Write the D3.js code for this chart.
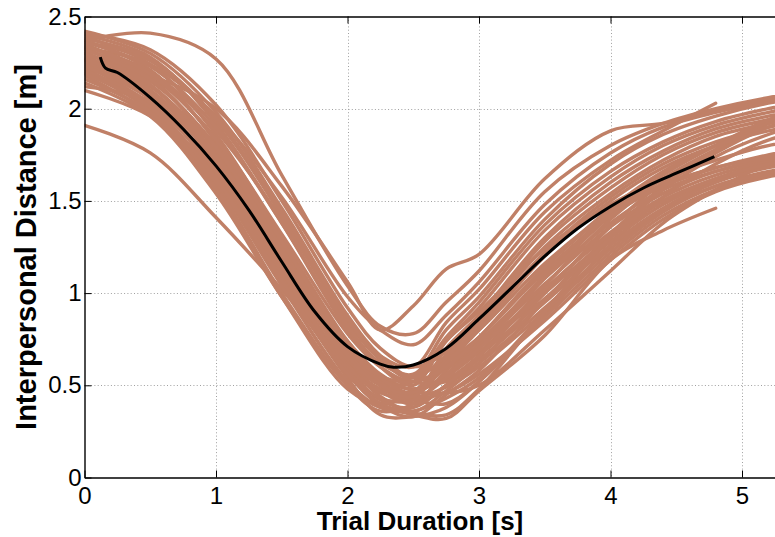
<!DOCTYPE html>
<html>
<head>
<meta charset="utf-8">
<script src="https://cdn.jsdelivr.net/npm/d3@7"></script>
<style>
  body { margin: 0; background: #fff; }
  svg { display: block; font-family: 'Liberation Sans', Arial, Helvetica, sans-serif; }
</style>
</head>
<body>
<svg></svg>
<script>
// sample times shared by every trial (s)
let sampleTimes = [0, 0.5, 1, 1.5, 2, 2.25, 2.5, 2.75, 3, 3.5, 4, 4.4, 4.8, 5.2, 5.6]

// interpersonal distance per trial (m), null = trial already ended
let trials = [
  [2.37, 2.41, 2.27, 1.64, 1.04, 0.82, 0.78, 0.95, 1.12, 1.55, 1.80, 1.92, 2.00, 2.06, 2.10],
  [2.26, 2.18, 2.00, 1.58, 1.06, 0.80, 0.93, 1.13, 1.21, 1.62, 1.88, 1.92, 1.99, 2.05, 2.10],
  [2.33, 2.24, 1.96, 1.52, 0.98, 0.80, 0.72, 0.88, 1.06, 1.48, 1.76, 1.90, 1.98, 2.04, 2.08],
  [1.91, 1.76, 1.41, 1.02, 0.60, 0.48, 0.43, 0.46, 0.56, 0.85, 1.18, 1.40, 1.55, 1.63, 1.67],
  [2.12, 2.04, 1.74, 1.24, 0.74, 0.56, 0.47, 0.46, 0.50, 0.80, 1.12, 1.38, 1.56, 1.70, 1.78],
  [2.42, 2.30, 1.98, 1.46, 0.88, 0.66, 0.55, 0.76, 0.95, 1.37, 1.66, 1.82, 1.93, 2.00, 2.05],
  [2.40, 2.28, 1.92, 1.38, 0.80, 0.60, 0.50, 0.74, 0.90, 1.24, 1.48, 1.62, 1.72, 1.80, 1.84],
  [2.39, 2.24, 1.86, 1.30, 0.74, 0.55, 0.45, 0.70, 0.88, 1.30, 1.60, 1.77, 1.89, 1.96, 2.01],
  [2.37, 2.21, 1.82, 1.26, 0.68, 0.50, 0.40, 0.58, 0.72, 1.05, 1.36, 1.54, 1.66, 1.72, 1.76],
  [2.35, 2.17, 1.77, 1.20, 0.62, 0.44, 0.36, 0.47, 0.62, 1.00, 1.36, 1.60, 1.77, 1.92, 2.00],
  [2.33, 2.13, 1.73, 1.15, 0.57, 0.39, 0.33, 0.45, 0.58, 0.96, 1.32, 1.58, 1.76, 1.90, 1.98],
  [2.31, 2.10, 1.70, 1.12, 0.60, 0.42, 0.38, 0.50, 0.62, 0.92, 1.24, 1.45, 1.58, 1.66, 1.70],
  [2.29, 2.08, 1.66, 1.08, 0.54, 0.34, 0.33, 0.38, 0.52, 0.90, 1.30, 1.56, 1.74, 1.86, 1.94],
  [2.27, 2.06, 1.64, 1.10, 0.62, 0.48, 0.47, 0.66, 0.84, 1.25, 1.54, 1.72, 1.85, 1.92, 1.97],
  [2.25, 2.06, 1.68, 1.16, 0.66, 0.52, 0.52, 0.74, 0.92, 1.34, 1.63, 1.80, 1.91, 1.98, 2.03],
  [2.24, 2.02, 1.62, 1.06, 0.56, 0.40, 0.34, 0.32, 0.47, 0.77, 1.18, 1.34, 1.46, null, null],
  [2.34, 2.20, 1.88, 1.40, 0.86, 0.66, 0.60, 0.84, 1.02, 1.44, 1.72, 1.88, 2.03, null, null],
  [2.22, 2.00, 1.60, 1.04, 0.52, 0.38, 0.36, 0.43, 0.54, 0.88, 1.26, 1.52, 1.70, 1.83, 1.90],
  [2.20, 1.99, 1.58, 1.00, 0.50, 0.36, 0.40, 0.56, 0.72, 1.10, 1.44, 1.65, 1.80, 1.92, 1.99],
  [2.18, 1.97, 1.56, 0.98, 0.48, 0.40, 0.46, 0.64, 0.82, 1.22, 1.52, 1.70, 1.82, 1.90, 1.95],
  [2.16, 1.98, 1.60, 1.08, 0.60, 0.46, 0.42, 0.40, 0.52, 0.87, 1.20, 1.42, 1.56, 1.64, 1.68],
  [2.10, 1.96, 1.66, 1.18, 0.70, 0.54, 0.48, 0.53, 0.66, 0.97, 1.28, 1.48, 1.61, 1.69, 1.74],
  [2.36, 2.26, 1.94, 1.42, 0.84, 0.64, 0.54, 0.66, 0.80, 1.16, 1.44, 1.59, 1.68, 1.75, 1.80],
  [2.32, 2.18, 1.84, 1.32, 0.78, 0.60, 0.52, 0.60, 0.74, 1.08, 1.38, 1.56, 1.66, 1.73, 1.77],
  [2.30, 2.15, 1.80, 1.28, 0.72, 0.54, 0.48, 0.55, 0.68, 1.00, 1.30, 1.50, 1.62, 1.70, 1.74],
  [2.28, 2.12, 1.78, 1.24, 0.70, 0.52, 0.44, 0.49, 0.60, 0.90, 1.22, 1.44, 1.58, 1.65, 1.70],
  [2.41, 2.32, 2.02, 1.50, 0.92, 0.70, 0.60, 0.68, 0.86, 1.28, 1.57, 1.75, 1.87, 1.94, 1.99],
  [2.38, 2.27, 1.95, 1.44, 0.86, 0.64, 0.52, 0.52, 0.64, 0.95, 1.26, 1.46, 1.60, 1.68, 1.72],
  [2.26, 2.09, 1.72, 1.18, 0.64, 0.47, 0.40, 0.50, 0.66, 1.04, 1.40, 1.62, 1.78, 1.93, 2.03],
  [2.23, 2.05, 1.66, 1.12, 0.58, 0.43, 0.42, 0.54, 0.70, 1.08, 1.42, 1.64, 1.80, 1.94, 2.02],
  [2.21, 2.03, 1.66, 1.14, 0.64, 0.50, 0.46, 0.56, 0.70, 1.02, 1.33, 1.52, 1.64, 1.71, 1.75],
  [2.34, 2.19, 1.83, 1.28, 0.72, 0.54, 0.46, 0.60, 0.76, 1.14, 1.46, 1.66, 1.80, 1.90, 1.96],
  [2.32, 2.16, 1.79, 1.24, 0.68, 0.50, 0.44, 0.62, 0.76, 1.12, 1.42, 1.58, 1.68, 1.74, 1.78],
  [2.19, 2.01, 1.62, 1.07, 0.56, 0.40, 0.35, 0.34, 0.48, 0.90, 1.30, 1.50, 1.62, 1.70, 1.74],
  [2.30, 2.13, 1.75, 1.20, 0.66, 0.50, 0.46, 0.62, 0.80, 1.20, 1.50, 1.68, 1.80, 1.88, 1.93],
  [2.27, 2.10, 1.74, 1.22, 0.70, 0.55, 0.52, 0.60, 0.76, 1.14, 1.44, 1.58, 1.68, null, null],
  [2.36, 2.23, 1.90, 1.38, 0.82, 0.62, 0.56, 0.80, 0.98, 1.40, 1.70, 1.86, 1.96, 2.03, 2.07],
  [2.14, 1.96, 1.54, 0.98, 0.50, 0.38, 0.38, 0.50, 0.66, 1.02, 1.32, 1.50, 1.62, 1.70, 1.76]
]

// mean curve
let meanTimes = [0.12, 0.16, 0.25, 0.5, 0.75, 1, 1.25, 1.5, 1.75, 2, 2.25, 2.35, 2.5, 2.75, 3, 3.25, 3.5, 3.75, 4, 4.25, 4.5, 4.79]
let meanDistance = [2.28, 2.22, 2.196, 2.06, 1.89, 1.69, 1.45, 1.17, 0.90, 0.71, 0.615, 0.598, 0.61, 0.70, 0.86, 1.03, 1.20, 1.35, 1.47, 1.57, 1.65, 1.74]

let xTicks = [0, 1, 2, 3, 4, 5]
let yTicks = [0, 0.5, 1, 1.5, 2, 2.5]
let yTickLabels = ['0', '0.5', '1', '1.5', '2', '2.5']

let width = 775
let height = 537
let plotLeft = 84.5
let plotTop = 16.5
let plotBottom = 477.5
let unitX = 131.5

let trialColor = 'rgb(192,128,103)'

let svg = d3.select('svg')
let xScale
let yScale

let drawCanvas = () => {
    svg.attr('width', width)
    svg.attr('height', height)
}

let generateScales = () => {
    xScale = d3.scaleLinear()
                .domain([0, 5.5])
                .range([plotLeft, plotLeft + 5.5 * unitX])
    yScale = d3.scaleLinear()
                .domain([0, 2.5])
                .range([plotBottom, plotTop])
}

// dotted grid under the data
let drawGrid = () => {
    let grid = svg.append('g')
                  .attr('stroke', '#a0a0a0')
                  .attr('stroke-width', 1)
                  .attr('stroke-dasharray', '1,2.3')
    grid.selectAll('.gx')
        .data(xTicks.slice(1))
        .enter()
        .append('line')
        .attr('x1', (d) => Math.round(xScale(d)) + 0.5)
        .attr('x2', (d) => Math.round(xScale(d)) + 0.5)
        .attr('y1', plotTop)
        .attr('y2', plotBottom)
    grid.selectAll('.gy')
        .data(yTicks.slice(1, -1))
        .enter()
        .append('line')
        .attr('x1', plotLeft)
        .attr('x2', width)
        .attr('y1', (d) => Math.round(yScale(d)) + 0.5)
        .attr('y2', (d) => Math.round(yScale(d)) + 0.5)
}

let drawLines = () => {
    svg.append('clipPath')
        .attr('id', 'plot-clip')
        .append('rect')
        .attr('x', plotLeft)
        .attr('y', plotTop)
        .attr('width', width - plotLeft)
        .attr('height', plotBottom - plotTop)

    let trialLine = d3.line()
                      .defined((d) => d[1] != null)
                      .x((d) => xScale(d[0]))
                      .y((d) => yScale(d[1]))
                      .curve(d3.curveCatmullRom.alpha(0.5))

    let plot = svg.append('g').attr('clip-path', 'url(#plot-clip)')

    plot.selectAll('.trial')
        .data(trials)
        .enter()
        .append('path')
        .attr('class', 'trial')
        .attr('d', (d) => trialLine(d.map((v, i) => [sampleTimes[i], v])))
        .attr('fill', 'none')
        .attr('stroke', trialColor)
        .attr('stroke-width', 3.4)
        .attr('stroke-linejoin', 'round')
        .attr('stroke-linecap', 'round')

    plot.append('path')
        .attr('d', trialLine(meanTimes.map((t, i) => [t, meanDistance[i]])))
        .attr('fill', 'none')
        .attr('stroke', '#000')
        .attr('stroke-width', 3)
        .attr('stroke-linejoin', 'round')
}

// matlab style box with inward ticks
let generateAxes = () => {
    let xAxis = d3.axisBottom(xScale)
                  .tickValues(xTicks)
                  .tickSizeInner(-7)
                  .tickSizeOuter(0)
                  .tickPadding(9)
                  .tickFormat(d3.format('d'))
    svg.append('g')
        .attr('id', 'x-axis')
        .attr('transform', `translate(0, ${plotBottom})`)
        .call(xAxis)

    let xTop = d3.axisTop(xScale)
                 .tickValues(xTicks)
                 .tickSizeInner(-7)
                 .tickSizeOuter(0)
                 .tickFormat('')
    svg.append('g')
        .attr('transform', `translate(0, ${plotTop})`)
        .call(xTop)

    let yAxis = d3.axisLeft(yScale)
                  .tickValues(yTicks)
                  .tickSizeInner(-7)
                  .tickSizeOuter(0)
                  .tickPadding(3)
                  .tickFormat((d, i) => yTickLabels[i])
    svg.append('g')
        .attr('id', 'y-axis')
        .attr('transform', `translate(${plotLeft}, 0)`)
        .call(yAxis)

    svg.selectAll('.domain').attr('stroke', '#000').attr('stroke-width', 1.4)
    svg.selectAll('.tick line').attr('stroke', '#000').attr('stroke-width', 1)
    svg.selectAll('.tick text')
        .attr('font-size', 24)
        .attr('font-family', "'Liberation Sans', Arial, sans-serif")
        .attr('fill', '#000')

    svg.append('text')
        .attr('x', 420)
        .attr('y', 530)
        .attr('text-anchor', 'middle')
        .attr('font-size', 26)
        .attr('font-weight', 'bold')
        .text('Trial Duration [s]')

    svg.append('text')
        .attr('transform', 'translate(36, 247) rotate(-90)')
        .attr('text-anchor', 'middle')
        .attr('font-size', 29)
        .attr('font-weight', 'bold')
        .text('Interpersonal Distance [m]')
}

drawCanvas()
generateScales()
drawGrid()
drawLines()
generateAxes()
</script>
</body>
</html>
